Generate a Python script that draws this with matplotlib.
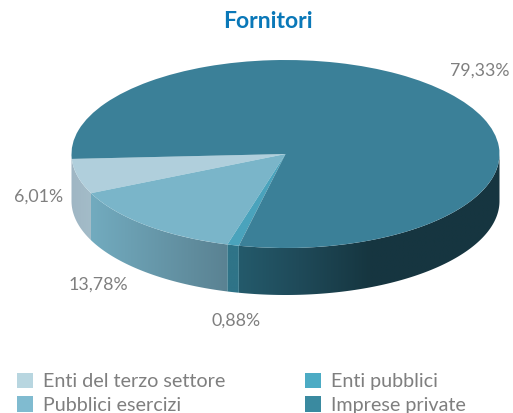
import numpy as np
import matplotlib
matplotlib.use("Agg")
import matplotlib.pyplot as plt
from matplotlib.patches import Patch, Polygon
from matplotlib.colors import to_rgb

categories = ["Enti del terzo settore", "Pubblici esercizi", "Enti pubblici", "Imprese private"]
values = [6.01, 13.78, 0.88, 79.33]
value_labels = ["6,01%", "13,78%", "0,88%", "79,33%"]
title = "Fornitori"

top_colors = ["#b0cfdc", "#7ab5c9", "#4aa3bc", "#3b8098"]
legend_colors = ["#b8d6e0", "#80bbd0", "#4cabc4", "#3a8aa0"]
wall_stops = [
    [(0.0, "#9fb6c4"), (1.0, "#a3bcc8")],
    [(0.0, "#72abbf"), (1.0, "#5a8292")],
    [(0.0, "#2f7488"), (1.0, "#2f7488")],
    [(0.0, "#245a6b"), (0.23, "#1f4a59"), (0.5, "#163640"), (1.0, "#163540")],
]
label_pos = [(39, 197), (98, 285), (236, 321), (480, 71)]

W, H = 513, 413
CX, CY, RX, RY, DEPTH = 285.5, 154.0, 214.0, 94.0, 47.0
START = 183.0
FONT = ["Lato", "DejaVu Sans"]
GREY = "#7f7f7f"

fig = plt.figure(figsize=(W / 100, H / 100), dpi=100)
ax = fig.add_axes([0, 0, 1, 1])
wedges, _ = ax.pie(values, colors=top_colors, startangle=START, counterclock=True,
                   radius=1, center=(0, 0), wedgeprops=dict(linewidth=0))
for w in wedges:
    w.set_zorder(5)

depth = DEPTH / RY
xlim = (-CX / RX, (W - CX) / RX)
ylim = (-(H - CY) / RY, CY / RY)

edges = START + np.cumsum([0] + values) * 3.6
for i, stops in enumerate(wall_stops):
    a0, a1 = edges[i], min(edges[i + 1], 360.0)
    if i == 0:
        a0 = 180.0
    ts = np.radians(np.linspace(a0, a1, 200))
    cx, sy = np.cos(ts), np.sin(ts)
    outline = np.column_stack([np.r_[cx, cx[::-1]], np.r_[sy, sy[::-1] - depth]])
    f = np.linspace(0, 1, 256)
    xs = [s[0] for s in stops]
    cols = np.array([to_rgb(s[1]) for s in stops])
    grad = np.stack([np.interp(f, xs, cols[:, k]) for k in range(3)], axis=-1)[None, :, :]
    im = ax.imshow(grad, extent=(cx[0], cx[-1], -1 - depth, 0.2), aspect="auto",
                   interpolation="bilinear", zorder=2)
    clip = Polygon(outline, closed=True, transform=ax.transData, facecolor="none", edgecolor="none")
    ax.add_patch(clip)
    im.set_clip_path(clip)

ax.set_aspect("auto")
ax.set_xlim(*xlim)
ax.set_ylim(*ylim)
ax.axis("off")

fig.text(267.5 / W, 1 - 22 / H, title, color="#0a78b8", fontsize=16.5, fontweight="bold",
         family=FONT, ha="center", va="center")
for lab, (px, py) in zip(value_labels, label_pos):
    fig.text(px / W, 1 - py / H, lab, color=GREY, fontsize=12.8, family=FONT,
             ha="center", va="center")

handles = [Patch(facecolor=c, edgecolor="none") for c in legend_colors]
fig.legend(handles, categories, ncol=2, frameon=False, loc="upper left",
           bbox_to_anchor=(17 / W, 1 - 373 / H), borderaxespad=0, borderpad=0,
           prop=dict(family=FONT, size=14.2), labelcolor=GREY,
           handlelength=0.81, handleheight=0.81, handletextpad=0.5,
           labelspacing=0.3, columnspacing=4.05)

fig.savefig("out.png", dpi=100)
